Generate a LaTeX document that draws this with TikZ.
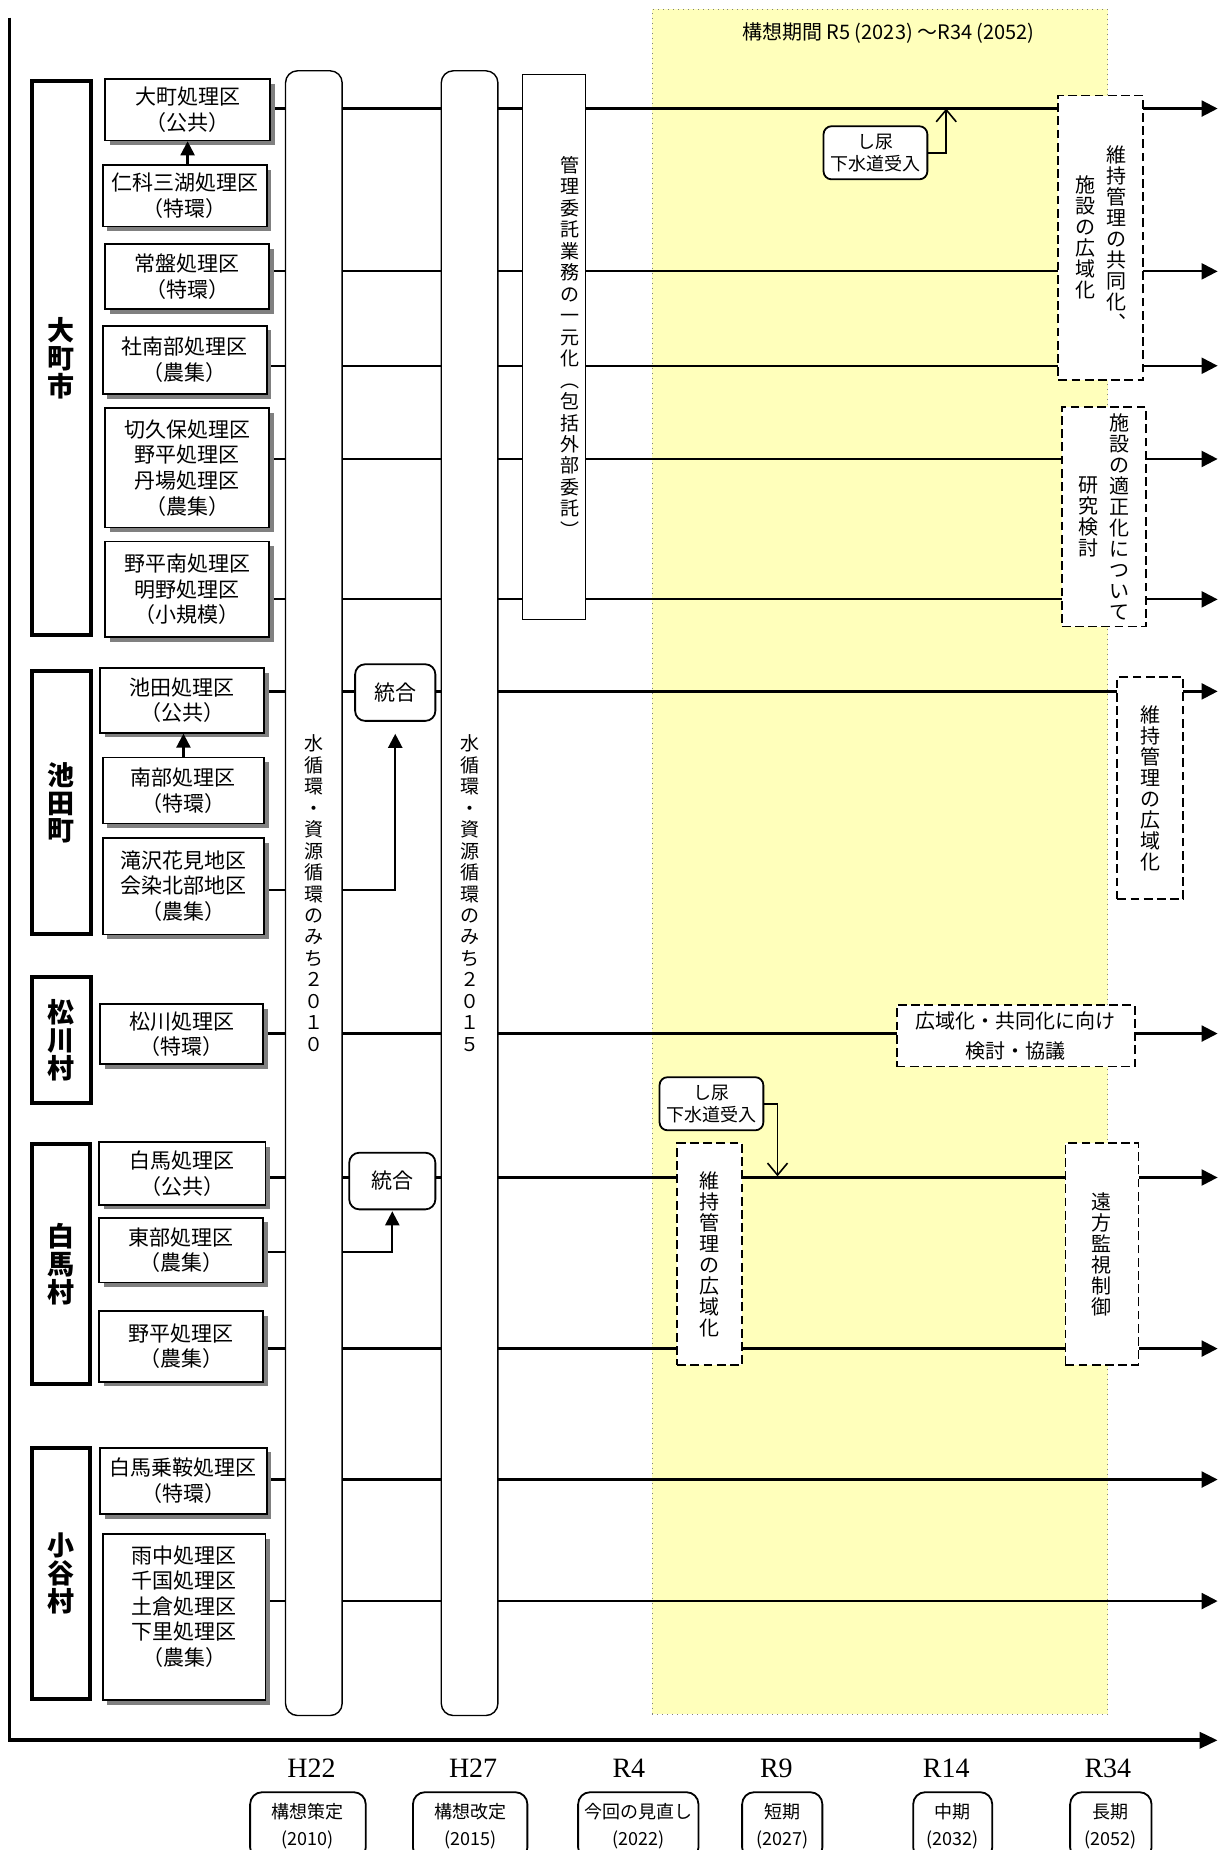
\documentclass[tikz,border=0pt]{standalone}
\usepackage{fontspec}
\setmainfont{Noto Sans CJK JP}
\newfontfamily\nenfont{Liberation Serif}
\usetikzlibrary{arrows.meta, positioning, fit, shadows, backgrounds}

\definecolor{kousou}{RGB}{255,255,187}

\makeatletter
\newcommand\tate[2][1.1]{$\vcenter{\baselineskip=#1em\lineskiplimit=-\maxdimen
    \@tfor\tch:=#2\do{\hbox to 1em{\hss\tch\hss}}}$}
\makeatother

\begin{document}
\begin{tikzpicture}[
        x=0.59pt, y=-0.59pt,
        shi/.style={draw, line width=2pt, fill=white, inner sep=0pt,
            label={[shitext]center:{\tate[1.03]{#1}}}},
        shitext/.style={inner sep=0pt, font=\fontsize{13.5}{14}\selectfont\bfseries},
        area/.style={draw, line width=0.9pt, fill=white, inner sep=0pt,
            drop shadow={shadow xshift=2.4pt, shadow yshift=-2.4pt, fill=black!50, opacity=1},
            label={[areatext]center:{#1}}},
        areatext/.style={inner sep=0pt, align=center, font=\fontsize{10.5}{12.8}\selectfont},
        michi/.style={draw, line width=0.7pt, fill=white, rounded corners=6pt, inner sep=0pt,
            label={[michitext]center:{\tate[1.13]{#1}}}},
        michitext/.style={inner sep=0pt, font=\fontsize{9.5}{10.7}\selectfont},
        togo/.style={draw, line width=0.9pt, fill=white, rounded corners=5pt, inner sep=0pt,
            label={[inner sep=0pt, font=\fontsize{10.5}{12}\selectfont]center:統合}},
        plan/.style={draw, line width=0.9pt, fill=white, dash pattern=on 4.4pt off 2.2pt,
            inner sep=0pt, label={[plantext]center:{#1}}},
        plantext/.style={inner sep=0pt, align=center, font=\fontsize{10}{15}\selectfont},
        shinyo/.style={draw, line width=0.9pt, fill=white, rounded corners=4pt, inner sep=0pt,
            label={[inner sep=0pt, align=center, font=\fontsize{9}{11}\selectfont]center:{し尿\\下水道受入}}},
        kikan/.style={draw, line width=0.9pt, fill=white, rounded corners=6pt, inner sep=0pt,
            label={[inner sep=0pt, align=center, font=\fontsize{9}{13.5}\selectfont]center:{#1}}},
        nen/.style={font=\nenfont\fontsize{14}{14}\selectfont},
        rowline/.style={line width=1.1pt},
        rowtip/.style={-{Triangle[length=8pt, width=8pt]}},
        uptip/.style={-{Triangle[length=7pt, width=7pt]}},
        feed/.style={line width=0.8pt, -{Straight Barb[length=6pt, width=10pt]}}
    ]
    \useasboundingbox (0,0) rectangle (1032,1568);

    % Define nodes
    \node[shi=大町市, fit={(27,69) (77,538)}] (omachi-shi) {};
    \node[shi=池田町, fit={(27,569) (77,792)}] (ikeda-shi) {};
    \node[shi=松川村, fit={(27,828) (77,935)}] (matsukawa-shi) {};
    \node[shi=白馬村, fit={(27,970) (76,1173)}] (hakuba-shi) {};
    \node[shi=小谷村, fit={(27,1227) (76,1440)}] (otari-shi) {};

    \node[area={大町処理区\\（公共）}, fit={(89,67) (229,119)}] (omachi) {};
    \node[area={仁科三湖処理区\\（特環）}, fit={(87,140) (226,192)}] (nishina) {};
    \node[area={常盤処理区\\（特環）}, fit={(89,207) (228,262)}] (tokiwa) {};
    \node[area={社南部処理区\\（農集）}, fit={(87,276) (226,334)}] (shanan) {};
    \node[area={切久保処理区\\野平処理区\\丹場処理区\\（農集）}, fit={(89,346) (228,447)}] (kikubo) {};
    \node[area={野平南処理区\\明野処理区\\（小規模）}, fit={(89,459) (228,540)}] (nodairaminami) {};
    \node[area={池田処理区\\（公共）}, fit={(85,566) (224,621)}] (ikeda) {};
    \node[area={南部処理区\\（特環）}, fit={(87,642) (224,698)}] (nanbu) {};
    \node[area={滝沢花見地区\\会染北部地区\\（農集）}, fit={(87,710) (224,792)}] (takizawa) {};
    \node[area={松川処理区\\（特環）}, fit={(85,851) (223,902)}] (matsukawa) {};
    \node[area={白馬処理区\\（公共）}, fit={(84,968) (225,1021)}] (hakuba) {};
    \node[area={東部処理区\\（農集）}, fit={(84,1032) (223,1087)}] (tobu) {};
    \node[area={野平処理区\\（農集）}, fit={(84,1111) (223,1171)}] (nodaira) {};
    \node[area={白馬乗鞍処理区\\（特環）}, fit={(85,1227) (226,1283)}] (norikura) {};
    \node[draw, line width=0.9pt, fill=white, inner sep=0pt,
        drop shadow={shadow xshift=2.4pt, shadow yshift=-2.4pt, fill=black!50, opacity=1},
        label={[areatext, yshift=5.3pt]center:{雨中処理区\\千国処理区\\土倉処理区\\下里処理区\\（農集）}},
        fit={(87,1300) (225,1441)}] (amenaka) {};

    \node[michi=水循環・資源循環のみち２０１０, fit={(242,60) (290,1454)}] (michi2010) {};
    \node[michi=水循環・資源循環のみち２０１５, fit={(374,60) (422,1454)}] (michi2015) {};
    \node[draw, line width=0.7pt, fill=white, inner sep=0pt, fit={(443,63) (496,525)},
        label={[michitext, xshift=8pt]center:{\tate[1.13]{管理委託業務の一元化︵包括外部委託︶}}}] (ichigenka) {};

    \node[togo, fit={(301,563) (369,611)}] (togo1) {};
    \node[togo, fit={(296,977) (369,1025)}] (togo2) {};

    \node[plan={\tate[1.05]{施設の広域化}\hspace{5.5pt}\tate[1.05]{維持管理の共同化︑}}, fit={(897,81) (969,322)}] (kyodoka) {};
    \node[plan={\tate[1.05]{研究検討}\hspace{5.5pt}\tate[1.05]{施設の適正化について}}, fit={(900,345) (971,531)}] (tekiseika) {};
    \node[plan={\tate[1.05]{維持管理の広域化}}, fit={(947,574) (1003,762)}] (ikeda-koiki) {};
    \node[plan={広域化・共同化に向け\\検討・協議}, fit={(760,852) (962,904)}] (kyogi) {};
    \node[plan={\tate[1.05]{維持管理の広域化}}, fit={(574,969) (629,1157)}] (hakuba-koiki) {};
    \node[plan={\tate[1.05]{遠方監視制御}}, fit={(903,969) (965,1157)}] (enpo) {};

    \node[shinyo, fit={(698,107) (786,152)}] (shinyo1) {};
    \node[shinyo, fit={(559,913) (647,958)}] (shinyo2) {};

    \node[nen] (h22) at (264,1499) {H22};
    \node[nen] (h27) at (401,1499) {H27};
    \node[nen] (r4) at (533,1499) {R4};
    \node[nen] (r9) at (658,1499) {R9};
    \node[nen] (r14) at (802,1499) {R14};
    \node[nen] (r34) at (939,1499) {R34};
    \node[kikan={構想策定\\(2010)}, fit={(212,1519) (310,1576)}] (sakutei) {};
    \node[kikan={構想改定\\(2015)}, fit={(350,1519) (447,1576)}] (kaitei) {};
    \node[kikan={今回の見直し\\(2022)}, fit={(490,1519) (592,1576)}] (minaoshi) {};
    \node[kikan={短期\\(2027)}, fit={(629,1519) (697,1576)}] (tanki) {};
    \node[kikan={中期\\(2032)}, fit={(774,1519) (841,1576)}] (chuki) {};
    \node[kikan={長期\\(2052)}, fit={(907,1519) (976,1576)}] (choki) {};

    \coordinate (ytop) at (8,15);
    \coordinate (origin) at (8,1475);
    \coordinate (xend) at (1032,1475);
    \coordinate (rend) at (1032,0);
    \coordinate (in1) at (802,92);
    \coordinate (in2) at (659,997);

    % Draw edges
    \begin{scope}[on background layer]
        \node[fit={(553,8) (939,1453)}, fill=kousou, draw=gray, dotted, line width=0.5pt, inner sep=0pt] (kikanbox) {};
        \node[font=\fontsize{10}{12}\selectfont] (title) at (753,28) {構想期間 R5 (2023) ～R34 (2052)};
        \foreach \a/\y in {omachi/92, tokiwa/230, shanan/310, kikubo/389, nodairaminami/508,
                ikeda/586, matsukawa/876, hakuba/998, nodaira/1143, norikura/1254, amenaka/1357} {
            \coordinate (row-\a) at (0,\y);
            \draw[rowline, rowtip] (\a.east |- row-\a) -- (rend |- row-\a);
        }
        \coordinate (row-takizawa) at (0,754);
        \coordinate (row-tobu) at (0,1061);
        \draw[rowline, uptip, shorten >=6pt] (takizawa.east |- row-takizawa) -| (togo1.south);
        \draw[rowline, uptip, shorten >=0.5pt] (tobu.east |- row-tobu) -| (togo2.south);
    \end{scope}
    \draw[rowline, uptip] (omachi.south |- nishina.north) -- (omachi.south);
    \draw[rowline, uptip] (nanbu.north) -- (nanbu.north |- ikeda.south);
    \draw[feed] (shinyo1.east) -| (in1);
    \draw[feed] (shinyo2.east) -| (in2);
    \draw[line width=1.8pt, -{Triangle[length=9pt, width=8pt]}] (ytop) -- (origin) -- (xend);
\end{tikzpicture}
\end{document}
